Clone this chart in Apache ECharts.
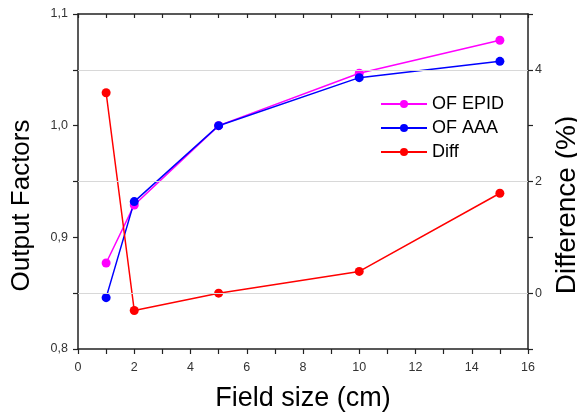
<!DOCTYPE html>
<html>
<head>
<meta charset="utf-8">
<script src="https://cdn.jsdelivr.net/npm/echarts@6/dist/echarts.min.js"></script>
<style>
html,body{margin:0;padding:0;background:#fff;}
#chart{width:577px;height:414px;}
</style>
</head>
<body>
<div id="chart"></div>
<script>
const fieldSize = [1, 2, 5, 10, 15];
const ofEpid = [0.877, 0.929, 1.000, 1.047, 1.0765];
const ofAaa = [0.846, 0.932, 1.000, 1.043, 1.0576];
const diff = [3.59, -0.31, 0.00, 0.39, 1.79];
const diffGridValues = [0, 2, 4];

const FONT = 'Liberation Sans, Arial, sans-serif';
const pairs = (xs, ys) => xs.map((x, i) => [x, ys[i]]);

const chart = echarts.init(document.getElementById('chart'), null, {renderer: 'canvas'});
const axisLine = {show: true, onZero: false, lineStyle: {color: '#222', width: 1.5}};
const tickStyle = {color: '#222', width: 1.2};

chart.setOption({
  animation: false,
  backgroundColor: '#fff',
  grid: {left: 78, right: 49, top: 14, bottom: 65, containLabel: false, outerBoundsMode: 'none'},
  legend: {
    data: ['OF EPID', 'OF AAA', 'Diff'],
    orient: 'vertical',
    left: 375, top: 90,
    itemWidth: 46, itemHeight: 10, itemGap: 6,
    textStyle: {fontFamily: FONT, fontSize: 18, color: '#000'}
  },
  xAxis: [{
    type: 'value', min: 0, max: 16, interval: 1,
    name: 'Field size (cm)', nameLocation: 'middle', nameGap: 36,
    nameTextStyle: {fontFamily: FONT, fontSize: 27, color: '#000'},
    axisLine: axisLine,
    axisTick: {show: true, inside: false, length: 5, lineStyle: tickStyle},
    axisLabel: {fontFamily: FONT, fontSize: 12.5, color: '#333', margin: 12,
      formatter: v => (v % 2 === 0 ? String(v) : '')},
    splitLine: {show: false}
  }, {
    type: 'value', min: 0, max: 16, interval: 1, position: 'top',
    axisLine: axisLine,
    axisTick: {show: true, inside: true, length: 4, lineStyle: tickStyle},
    axisLabel: {show: false},
    splitLine: {show: false}
  }],
  yAxis: [{
    type: 'value', min: 0.8, max: 1.1, interval: 0.1,
    name: 'Output Factors', nameLocation: 'middle', nameGap: 43, nameRotate: 90,
    nameTextStyle: {fontFamily: FONT, fontSize: 26, color: '#000', padding: [0, 48, 0, 0]},
    axisLine: axisLine,
    axisTick: {show: true, inside: false, length: 5, lineStyle: tickStyle},
    minorTick: {show: true, splitNumber: 2, length: 5, lineStyle: tickStyle},
    axisLabel: {fontFamily: FONT, fontSize: 12.5, color: '#333', margin: 10,
      formatter: v => v.toFixed(1).replace('.', ',')},
    splitLine: {show: false}
  }, {
    type: 'value', min: -1, max: 5, interval: 1, position: 'right',
    name: 'Difference (%)', nameLocation: 'middle', nameGap: 23, nameRotate: 90,
    nameTextStyle: {fontFamily: FONT, fontSize: 28, color: '#000', padding: [0, 47, 0, 0]},
    axisLine: axisLine,
    axisTick: {show: true, inside: false, length: 5, lineStyle: tickStyle},
    axisLabel: {fontFamily: FONT, fontSize: 12.5, color: '#333', margin: 7,
      formatter: v => (v >= 0 && v <= 4 && v % 2 === 0 ? String(v) : '')},
    splitLine: {show: false}
  }],
  series: [{
    name: 'grid', type: 'line', yAxisIndex: 1, data: [], z: 0, silent: true,
    markLine: {
      silent: true, symbol: 'none', label: {show: false},
      lineStyle: {color: '#d8d8d8', width: 1, type: 'solid'},
      emphasis: {disabled: true},
      data: diffGridValues.map(v => ({yAxis: v}))
    }
  }, {
    name: 'OF EPID', type: 'line', data: pairs(fieldSize, ofEpid),
    symbol: 'circle', symbolSize: 9,
    itemStyle: {color: '#ff00ff'}, lineStyle: {color: '#ff00ff', width: 1.5}
  }, {
    name: 'OF AAA', type: 'line', data: pairs(fieldSize, ofAaa),
    symbol: 'circle', symbolSize: 9,
    itemStyle: {color: '#0000ff'}, lineStyle: {color: '#0000ff', width: 1.5}
  }, {
    name: 'Diff', type: 'line', yAxisIndex: 1, data: pairs(fieldSize, diff),
    symbol: 'circle', symbolSize: 9,
    itemStyle: {color: '#ff0000'}, lineStyle: {color: '#ff0000', width: 1.5}
  }]
});
</script>
</body>
</html>
